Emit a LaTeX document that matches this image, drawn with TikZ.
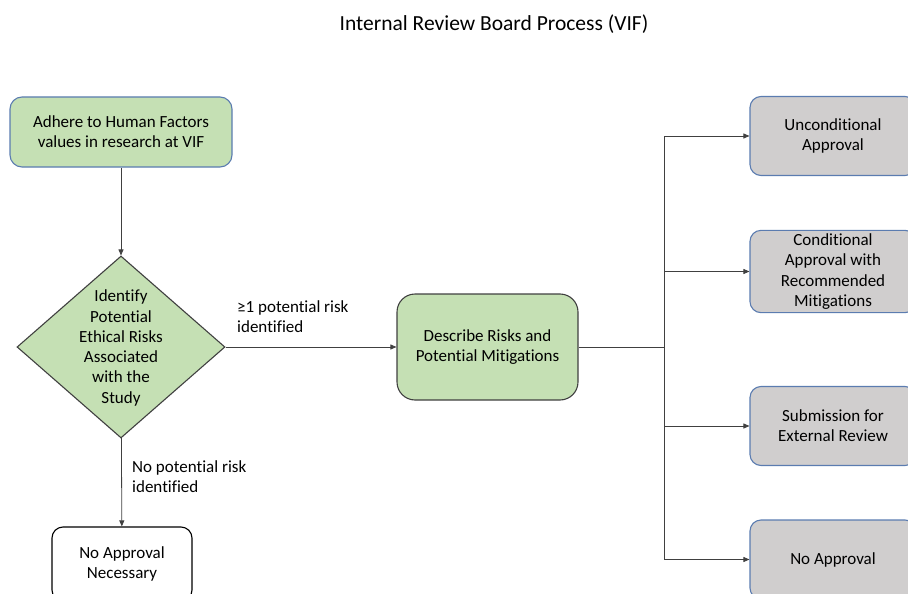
\documentclass[tikz,border=0pt]{standalone}
\usepackage{fontspec}
\setmainfont{Carlito}[Ligatures=NoCommon]
\usetikzlibrary{shapes.geometric,arrows.meta}

\definecolor{stepgreen}{HTML}{C5E0B4}
\definecolor{stepgrey}{HTML}{D0CECE}
\definecolor{stepblue}{HTML}{5B7CB0}
\definecolor{stepdark}{HTML}{404040}

\tikzset{
  greenbox/.style={draw=stepblue, line width=1.1pt, fill=stepgreen, rounded corners=12pt, align=center},
  greybox/.style={draw=stepblue, line width=1.1pt, fill=stepgrey, rounded corners=11pt, align=center,
    minimum width=166pt, minimum height=79pt},
  flowline/.style={draw=stepdark, line width=0.8pt},
  flowarrow/.style={flowline, -{Triangle[length=6pt,width=5pt]}},
  flowlabel/.style={align=left, inner sep=0pt}
}

\begin{document}
\begin{tikzpicture}[x=1pt, y=-1pt, font=\fontsize{17}{20.3}\selectfont]
    \useasboundingbox (0,0) rectangle (908,594);

    % Title
    \node[font=\fontsize{21.5}{24}\selectfont] (title) at (494,24) {Internal Review Board Process (VIF)};

    % Start box
    \node[greenbox, minimum width=222pt, minimum height=70pt] (adhere) at (121,132)
      {Adhere to Human Factors\\values in research at VIF};

    % Decision diamond
    \node[diamond, draw=stepdark, line width=1.1pt, fill=stepgreen, minimum width=208pt,
      minimum height=182pt, inner sep=0pt] (identify) at (121,347) {};
    \node[align=center, inner sep=0pt] (identifytext) at (121,348)
      {Identify\\Potential\\Ethical Risks\\Associated\\with the\\Study};

    % Risks box
    \node[greenbox, draw=stepdark, rounded corners=18pt, minimum width=181pt, minimum height=106pt]
      (describe) at (487.5,347) {Describe Risks and\\Potential Mitigations};

    % No risk box
    \node[draw=black, line width=1.1pt, fill=white, rounded corners=11pt, align=center,
      minimum width=140pt, minimum height=74pt] (noneed) at (122,564) {No Approval\\Necessary};

    % Outcome boxes
    \node[greybox] (uncond) at (833,136) {Unconditional\\Approval};
    \node[greybox] (cond) at (833,271.5) {Conditional\\Approval with\\Recommended\\Mitigations};
    \node[greybox] (external) at (833,426) {Submission for\\External Review};
    \node[greybox] (noappr) at (833,559.5) {No Approval};

    % Connectors
    \draw[flowarrow] (adhere) -- (identify);
    \draw[flowarrow] (identify) -- (describe);
    \draw[flowarrow] (identify) -- (noneed);
    \node[flowlabel, anchor=west] (risklabel) at (237,317) {≥1 potential risk\\identified};
    \node[flowlabel, anchor=west] (norisklabel) at (132,477) {No potential risk\\identified};

    % Split to outcomes
    \coordinate (split) at (664,347);
    \draw[flowline] (describe) -- (split);
    \draw[flowarrow] (split) |- (uncond);
    \draw[flowarrow] (split) |- (cond);
    \draw[flowarrow] (split) |- (external);
    \draw[flowarrow] (split) |- (noappr);
  \end{tikzpicture}
\end{document}
